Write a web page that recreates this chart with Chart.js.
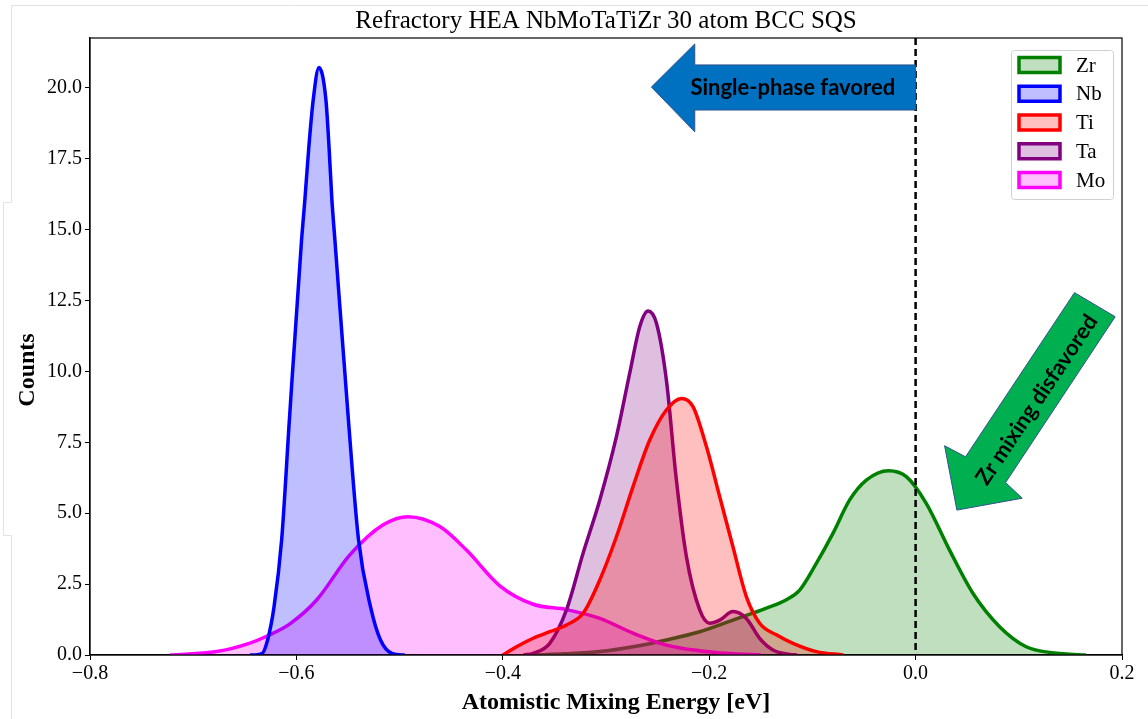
<!DOCTYPE html>
<html>
<head>
<meta charset="utf-8">
<script src="https://cdn.jsdelivr.net/npm/chart.js@4.4.1/dist/chart.umd.min.js"></script>
<style>
html,body{margin:0;padding:0;background:#fff;}
#wrap{width:1148px;height:719px;position:relative;}
</style>
</head>
<body>
<div id="wrap"><canvas id="c" width="1148" height="719"></canvas></div>
<script>
// ---- data ----
const seriesNames = ['Zr', 'Nb', 'Ti', 'Ta', 'Mo'];
const seriesColors = ['#008000', '#0000ff', '#ff0000', '#800080', '#ff00ff'];
const seriesFills = ['rgba(0,128,0,0.25)', 'rgba(0,0,255,0.25)', 'rgba(255,0,0,0.25)', 'rgba(128,0,128,0.25)', 'rgba(255,0,255,0.25)'];

const zrX = [-0.37, -0.34, -0.306, -0.2738, -0.2415, -0.2092, -0.177, -0.1446, -0.1252, -0.1123, -0.0962, -0.0801, -0.0639, -0.0477, -0.0262, -0.009, 0.0103, 0.0329, 0.0555, 0.0814, 0.1072, 0.1298, 0.165];
const zrY = [0, 0.04, 0.12, 0.29, 0.53, 0.82, 1.23, 1.65, 1.95, 2.29, 3.23, 4.29, 5.47, 6.17, 6.50, 6.29, 5.35, 3.70, 2.18, 1.0, 0.29, 0.09, 0.0];

const nbX = [-0.645, -0.6334, -0.6279, -0.6217, -0.6143, -0.6068, -0.595, -0.5918, -0.5882, -0.5837, -0.5782, -0.5714, -0.5682, -0.5656, -0.5627, -0.5496, -0.5398, -0.5281, -0.5185, -0.5069, -0.495];
const nbY = [0, 0.05, 0.53, 1.69, 4.06, 8.29, 14.64, 16.05, 17.8, 19.58, 20.72, 19.58, 17.8, 16.05, 14.64, 8.29, 4.06, 1.69, 0.53, 0.05, 0];

const tiX = [-0.40, -0.3867, -0.3706, -0.3545, -0.3383, -0.3222, -0.306, -0.2899, -0.2738, -0.2576, -0.2415, -0.2269, -0.2157, -0.2027, -0.1898, -0.177, -0.164, -0.1511, -0.1349, -0.1188, -0.0962, -0.07];
const tiY = [0, 0.29, 0.59, 0.82, 1.06, 1.47, 2.65, 4.17, 5.94, 7.58, 8.64, 9.05, 8.76, 7.35, 5.58, 3.82, 2.06, 1.12, 0.71, 0.41, 0.12, 0];

const taX = [-0.38, -0.3706, -0.3545, -0.3383, -0.3222, -0.306, -0.2899, -0.277, -0.2673, -0.2593, -0.2511, -0.2415, -0.2318, -0.2221, -0.2092, -0.1995, -0.1898, -0.177, -0.164, -0.1511, -0.1382, -0.122, -0.115];
const taY = [0, 0.06, 0.41, 1.59, 3.59, 5.47, 7.70, 9.94, 11.58, 12.13, 11.70, 9.70, 6.17, 3.47, 1.59, 1.12, 1.23, 1.53, 1.29, 0.59, 0.18, 0.02, 0];

const moX = [-0.7225, -0.6773, -0.645, -0.6289, -0.6063, -0.5804, -0.5482, -0.5159, -0.4917, -0.461, -0.4352, -0.4029, -0.3706, -0.3383, -0.306, -0.2738, -0.2415, -0.2092, -0.18, -0.15];
const moY = [0, 0.12, 0.42, 0.66, 1.10, 1.94, 3.53, 4.59, 4.88, 4.53, 3.70, 2.44, 1.79, 1.60, 1.29, 0.77, 0.35, 0.15, 0.05, 0];

const xTickValues = [-0.8, -0.6, -0.4, -0.2, 0.0, 0.2];
const yTickValues = [0, 2.5, 5, 7.5, 10, 12.5, 15, 17.5, 20];

const titleText = 'Refractory HEA NbMoTaTiZr 30 atom BCC SQS';
const xLabel = 'Atomistic Mixing Energy [eV]';
const yLabel = 'Counts';
const arrowText1 = 'Single-phase favored';
const arrowText2 = 'Zr mixing disfavored';

// annotation shapes in data coordinates (x in eV, y in counts)
const blueArrow = [[-0.256, 20.03], [-0.214, 21.55], [-0.214, 20.81], [0.0, 20.81], [0.0, 19.22], [-0.214, 19.22], [-0.214, 18.45]];
const greenArrow = [[0.154, 12.78], [0.1934, 11.93], [0.0872, 6.08], [0.1033, 5.53], [0.040, 5.11], [0.0281, 7.38], [0.0484, 6.99]];
const blueTextAt = [-0.119, 20.0];
const greenTextAt = [0.1175, 9.0];

// ---- build chart ----
const allX = [zrX, nbX, tiX, taX, moX];
const allY = [zrY, nbY, tiY, taY, moY];
const drawOrder = [5, 1, 2, 3, 4];
const datasets = seriesNames.map((n, i) => ({
  label: n,
  data: allX[i].map((x, k) => ({x: x, y: allY[i][k]})),
  borderColor: seriesColors[i],
  backgroundColor: seriesFills[i],
  borderWidth: 3.5,
  fill: 'origin',
  pointRadius: 0,
  cubicInterpolationMode: 'monotone',
  order: drawOrder[i]
}));

const SERIF = "'Liberation Serif', 'Times New Roman', serif";
const fmt = v => (Math.abs(v) < 1e-9 ? '0.0' : v.toFixed(1)).replace('-', '\u2212');

const overlay = {
  id: 'overlay',
  beforeDraw(chart) {
    const ctx = chart.ctx;
    ctx.save();
    ctx.fillStyle = '#fff';
    ctx.fillRect(0, 0, chart.width, chart.height);
    ctx.strokeStyle = '#e2e2e2';
    ctx.lineWidth = 1;
    ctx.beginPath();
    ctx.moveTo(1148, 5.5); ctx.lineTo(11.5, 5.5); ctx.lineTo(11.5, 202.5);
    ctx.lineTo(3.5, 202.5); ctx.lineTo(3.5, 535.5); ctx.lineTo(11.5, 535.5); ctx.lineTo(11.5, 719);
    ctx.stroke();
    ctx.restore();
  },
  afterDatasetsDraw(chart) {
    const ctx = chart.ctx;
    const xs = chart.scales.x, ys = chart.scales.y;
    const a = chart.chartArea;
    const px = p => [xs.getPixelForValue(p[0]), ys.getPixelForValue(p[1])];
    ctx.save();
    // dashed vertical at 0
    const x0 = xs.getPixelForValue(0);
    ctx.strokeStyle = '#000';
    ctx.lineWidth = 2.5;
    ctx.setLineDash([7, 4]);
    ctx.beginPath(); ctx.moveTo(x0, a.top); ctx.lineTo(x0, a.bottom); ctx.stroke();
    ctx.setLineDash([]);
    // spines
    ctx.lineWidth = 1.2;
    ctx.strokeStyle = '#000';
    ctx.strokeRect(a.left, a.top, a.right - a.left, a.bottom - a.top);

    // arrows
    const drawPoly = (pts, fill) => {
      ctx.beginPath();
      pts.forEach((p, i) => { const q = px(p); i ? ctx.lineTo(q[0], q[1]) : ctx.moveTo(q[0], q[1]); });
      ctx.closePath();
      ctx.fillStyle = fill; ctx.fill();
      ctx.strokeStyle = '#2f528f'; ctx.lineWidth = 1; ctx.stroke();
    };
    drawPoly(blueArrow, '#0070c0');
    drawPoly(greenArrow, '#00b050');
    ctx.fillStyle = '#000';
    ctx.font = "bold 22px Lato, 'Open Sans', sans-serif";
    ctx.textAlign = 'center'; ctx.textBaseline = 'middle';
    let t = px(blueTextAt);
    ctx.fillText(arrowText1, t[0], t[1]);
    t = px(greenTextAt);
    const tail = px([(greenArrow[0][0] + greenArrow[1][0]) / 2, (greenArrow[0][1] + greenArrow[1][1]) / 2]);
    const tip = px(greenArrow[4]);
    const ang = Math.atan2(tail[1] - tip[1], tail[0] - tip[0]);
    ctx.save();
    ctx.translate(t[0], t[1]); ctx.rotate(ang);
    ctx.fillText(arrowText2, 0, 0);
    ctx.restore();

    // legend
    const lx = 1011, ly = 50, lw = 102, lh = 149;
    ctx.fillStyle = 'rgba(255,255,255,0.8)';
    ctx.strokeStyle = '#d0d0d0'; ctx.lineWidth = 1;
    ctx.beginPath();
    if (ctx.roundRect) ctx.roundRect(lx + 0.5, ly + 0.5, lw, lh, 3); else ctx.rect(lx + 0.5, ly + 0.5, lw, lh);
    ctx.fill(); ctx.stroke();
    ctx.font = '21px ' + SERIF;
    ctx.textAlign = 'left'; ctx.textBaseline = 'middle';
    seriesNames.forEach((n, i) => {
      const cy = 65 + i * 28.75;
      ctx.fillStyle = '#fff';
      ctx.fillRect(1019, cy - 7.5, 41, 15);
      ctx.fillStyle = seriesFills[i];
      ctx.fillRect(1019, cy - 7.5, 41, 15);
      ctx.strokeStyle = seriesColors[i]; ctx.lineWidth = 3.5;
      ctx.strokeRect(1019, cy - 7.5, 41, 15);
      ctx.fillStyle = '#000';
      ctx.fillText(n, 1076, cy + 1);
    });

    // title
    ctx.font = '25px ' + SERIF;
    ctx.textAlign = 'center'; ctx.textBaseline = 'middle';
    ctx.fillStyle = '#000';
    ctx.fillText(titleText, (a.left + a.right) / 2, 21);

    // axis labels
    ctx.font = 'bold 24px ' + SERIF;
    ctx.fillText(xLabel, 616, 703);
    ctx.save();
    ctx.translate(28, 370); ctx.rotate(-Math.PI / 2);
    ctx.fillText(yLabel, 0, 0);
    ctx.restore();
    ctx.restore();
  }
};

new Chart(document.getElementById('c'), {
  type: 'line',
  data: { datasets: datasets },
  plugins: [overlay],
  options: {
    responsive: false,
    animation: false,
    devicePixelRatio: 1,
    layout: { padding: { left: 0, right: 26, top: 38, bottom: 0 } },
    plugins: { legend: { display: false }, tooltip: { enabled: false }, title: { display: false } },
    scales: {
      x: {
        type: 'linear', min: -0.8, max: 0.2,
        afterBuildTicks: s => { s.ticks = xTickValues.map(v => ({value: v})); },
        afterFit: s => { s.height = 64; },
        ticks: { callback: v => fmt(v), font: { family: SERIF, size: 20 }, color: '#000', padding: 2, maxRotation: 0, autoSkip: false },
        grid: { display: true, drawOnChartArea: false, drawTicks: true, tickLength: 5, tickColor: '#000', color: '#000' },
        border: { display: true, color: '#000', width: 1.2 },
        title: { display: false }
      },
      y: {
        type: 'linear', min: 0, max: 21.76,
        afterBuildTicks: s => { s.ticks = yTickValues.map(v => ({value: v})); },
        afterFit: s => { s.width = 90; },
        ticks: { callback: v => fmt(v), font: { family: SERIF, size: 20 }, color: '#000', padding: 3, autoSkip: false },
        grid: { display: true, drawOnChartArea: false, drawTicks: true, tickLength: 5, tickColor: '#000', color: '#000' },
        border: { display: true, color: '#000', width: 1.2 },
        title: { display: false }
      }
    }
  }
});
</script>
</body>
</html>
